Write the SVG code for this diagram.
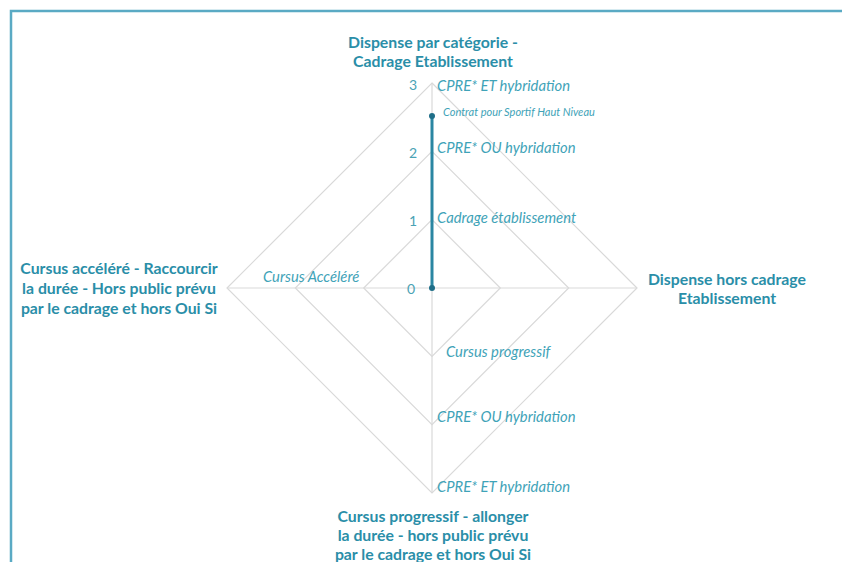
<svg xmlns="http://www.w3.org/2000/svg" width="842" height="562" viewBox="0 0 842 562">
<defs>
<style>
.grid{fill:none;stroke:#d9d9d9;stroke-width:1.2}
.axis{stroke:#d9d9d9;stroke-width:1.2}
.bold{font-family:Lato,"Liberation Sans",sans-serif;font-weight:bold;font-size:15.8px;fill:#2a8ea8}
.it{font-family:Lato,"Liberation Sans",sans-serif;font-style:italic;font-size:14.8px;fill:#3fa3b8}
.tick{font-family:Lato,"Liberation Sans",sans-serif;font-size:14px;fill:#4aa3b5}
</style>
</defs>
<rect x="0" y="0" width="842" height="562" fill="#ffffff"/>
<path d="M11 575 V11 H860" fill="none" stroke="#5aaac4" stroke-width="2.5"/>
<g id="grid">
<polygon class="grid" points="432,83 637,288 432,493 227,288"/>
<polygon class="grid" points="432,151.3 568.7,288 432,424.7 295.3,288"/>
<polygon class="grid" points="432,219.7 500.3,288 432,356.3 363.7,288"/>
<line class="axis" x1="432" y1="83" x2="432" y2="493"/>
<line class="axis" x1="227" y1="288" x2="637" y2="288"/>
</g>
<g id="ticks">
<text class="tick" x="413" y="90" text-anchor="middle">3</text>
<text class="tick" x="413" y="158" text-anchor="middle">2</text>
<text class="tick" x="413" y="226" text-anchor="middle">1</text>
<text class="tick" x="411" y="294" text-anchor="middle">0</text>
</g>
<g id="connectors">
<line x1="432" y1="288" x2="432" y2="116" stroke="#2a86a2" stroke-width="3"/>
<circle cx="432" cy="116" r="3" fill="#1f6e88"/>
<circle cx="432" cy="288" r="3" fill="#1f6e88"/>
</g>
<g id="axis-top">
<text class="bold" x="433" y="48" text-anchor="middle">Dispense par catégorie -</text>
<text class="bold" x="433" y="67" text-anchor="middle">Cadrage Etablissement</text>
</g>
<g id="axis-right">
<text class="bold" x="727" y="285" text-anchor="middle">Dispense hors cadrage</text>
<text class="bold" x="727" y="304" text-anchor="middle">Etablissement</text>
</g>
<g id="axis-bottom">
<text class="bold" x="433" y="522" text-anchor="middle">Cursus progressif - allonger</text>
<text class="bold" x="433" y="541" text-anchor="middle">la durée - hors public prévu</text>
<text class="bold" x="433" y="560" text-anchor="middle">par le cadrage et hors Oui Si</text>
</g>
<g id="axis-left">
<text class="bold" x="119" y="274" text-anchor="middle">Cursus accéléré - Raccourcir</text>
<text class="bold" x="119" y="294" text-anchor="middle">la durée - Hors public prévu</text>
<text class="bold" x="119" y="314" text-anchor="middle">par le cadrage et hors Oui Si</text>
</g>
<g id="labels">
<text class="it" x="437" y="91">CPRE* ET hybridation</text>
<text class="it" x="443" y="116" style="font-size:11px">Contrat pour Sportif Haut Niveau</text>
<text class="it" x="437" y="153">CPRE* OU hybridation</text>
<text class="it" x="437" y="223">Cadrage établissement</text>
<text class="it" x="263" y="282">Cursus Accéléré</text>
<text class="it" x="446" y="357">Cursus progressif</text>
<text class="it" x="437" y="422">CPRE* OU hybridation</text>
<text class="it" x="437" y="492">CPRE* ET hybridation</text>
</g>
</svg>
